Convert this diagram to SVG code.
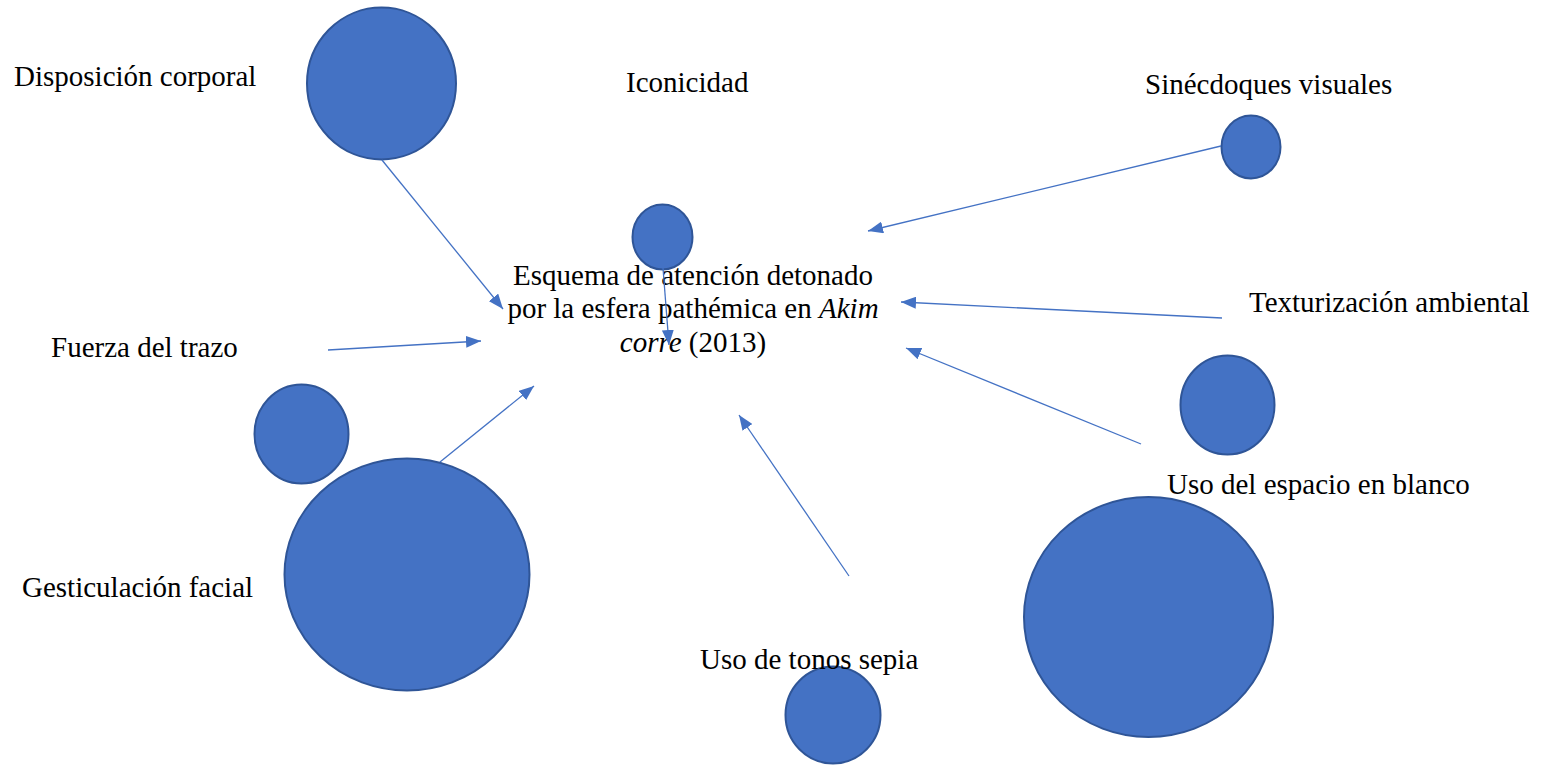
<svg xmlns="http://www.w3.org/2000/svg" width="1548" height="765" viewBox="0 0 1548 765">
<style>
.c{fill:#4472C4;stroke:#2F5597;stroke-width:2}
.l{stroke:#4472C4;stroke-width:1.3;fill:none;marker-end:url(#ah)}
text{font-family:"Liberation Serif","Times New Roman",serif;font-size:29px;fill:#000}
.i{font-style:italic}
</style>
<defs>
<marker id="ah" markerUnits="userSpaceOnUse" markerWidth="16" markerHeight="12" refX="15" refY="6" orient="auto">
<path d="M0,0 L15,6 L0,12 Z" fill="#4472C4"/>
</marker>
</defs>
<rect width="1548" height="765" fill="#fff"/>
<g id="n-disposicion"><ellipse class="c" cx="381.5" cy="83.5" rx="74.5" ry="76"/><text x="14" y="86">Disposición corporal</text></g>
<g id="n-iconicidad"><ellipse class="c" cx="662.5" cy="237" rx="30" ry="32.5"/><text x="626" y="92">Iconicidad</text></g>
<g id="n-sinecdoques"><ellipse class="c" cx="1251" cy="147" rx="29.5" ry="31.5"/><text x="1145" y="94">Sinécdoques visuales</text></g>
<g id="n-fuerza"><ellipse class="c" cx="301.5" cy="434" rx="47" ry="49.5"/><text x="51" y="357">Fuerza del trazo</text></g>
<g id="n-gesticulacion"><ellipse class="c" cx="407" cy="574.5" rx="122.5" ry="116"/><text x="22" y="597">Gesticulación facial</text></g>
<g id="n-texturizacion"><ellipse class="c" cx="1227.5" cy="405" rx="47" ry="49.5"/><text x="1249" y="312">Texturización ambiental</text></g>
<g id="n-espacio"><ellipse class="c" cx="1148.5" cy="617" rx="124.5" ry="120"/><text x="1167" y="494">Uso del espacio en blanco</text></g>
<g id="n-sepia"><ellipse class="c" cx="833" cy="715" rx="47.5" ry="48.5"/><text x="700" y="669">Uso de tonos sepia</text></g>
<g id="n-centro">
<text x="693" y="285" text-anchor="middle">Esquema de atención detonado</text>
<text x="693" y="318" text-anchor="middle">por la esfera pathémica en <tspan class="i">Akim</tspan></text>
<text x="693" y="352" text-anchor="middle"><tspan class="i">corre</tspan> (2013)</text>
</g>
<g id="connectors">
<line class="l" x1="382" y1="160" x2="503" y2="309"/>
<line class="l" x1="663" y1="268" x2="669" y2="345"/>
<line class="l" x1="1221" y1="146" x2="868" y2="231"/>
<line class="l" x1="1222" y1="318" x2="901" y2="302"/>
<line class="l" x1="1141" y1="444" x2="906" y2="348"/>
<line class="l" x1="328" y1="350" x2="481" y2="341"/>
<line class="l" x1="440" y1="462" x2="534" y2="386"/>
<line class="l" x1="849" y1="576" x2="739" y2="415"/>
</g>
</svg>
